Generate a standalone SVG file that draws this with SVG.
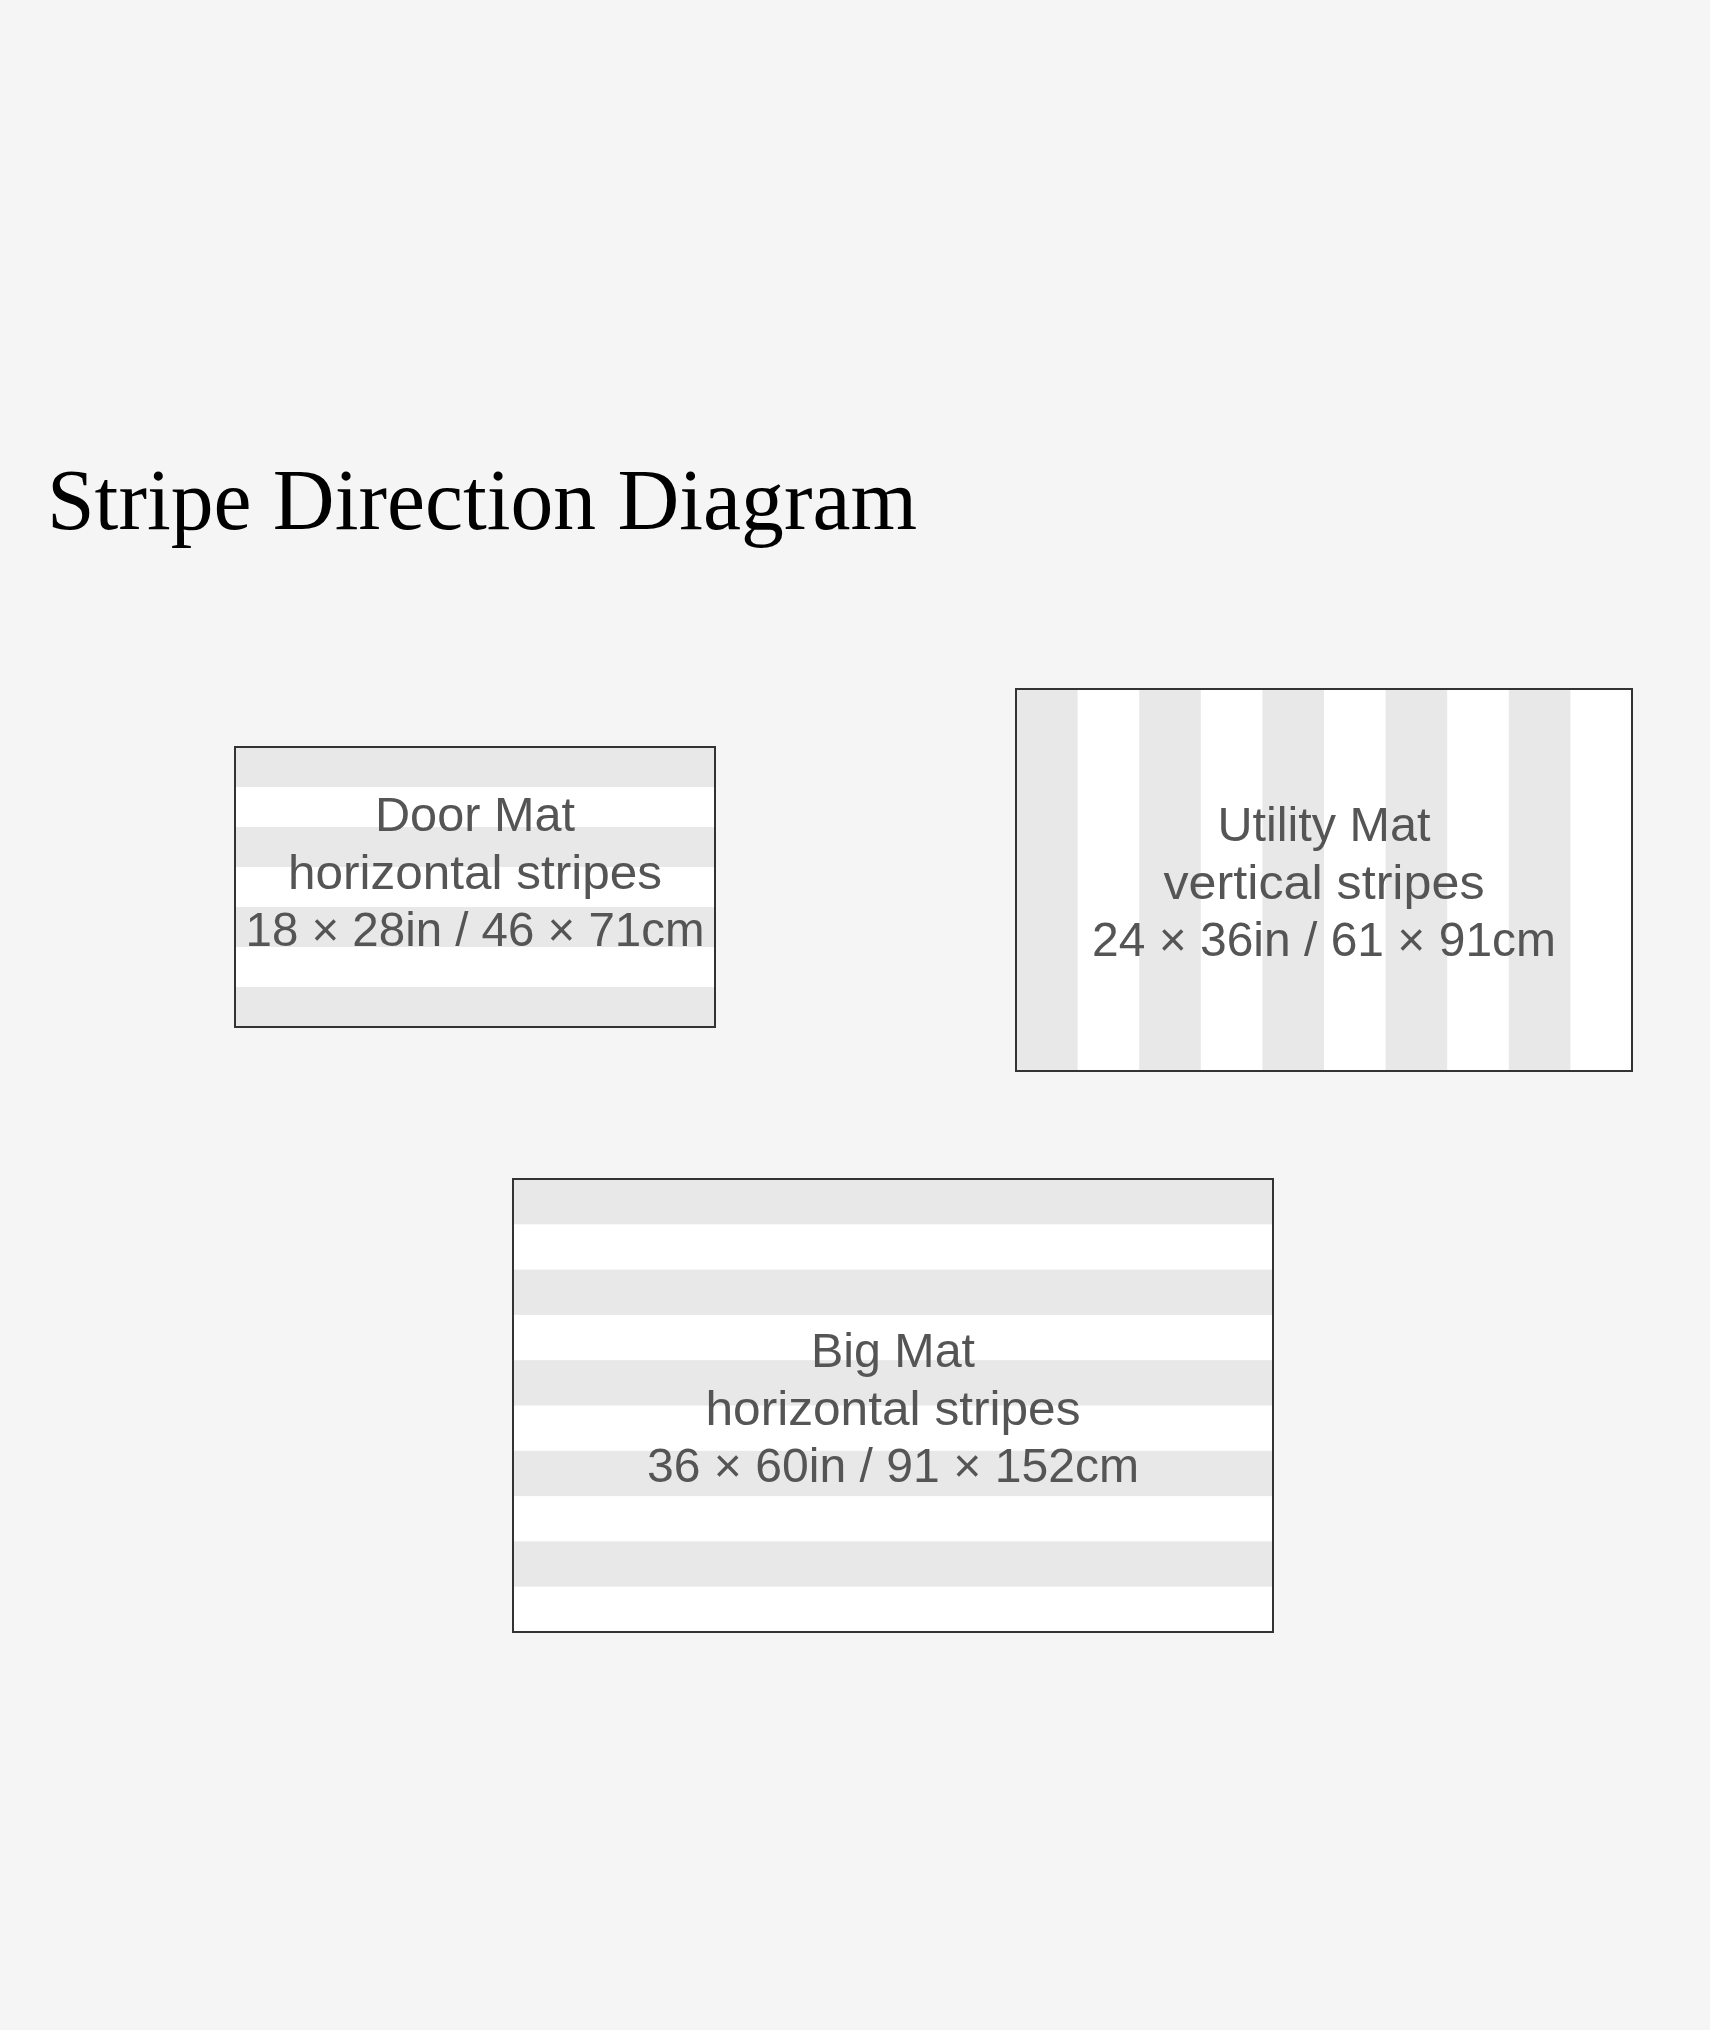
<svg xmlns="http://www.w3.org/2000/svg" width="1710" height="2030" viewBox="0 0 1710 2030">
  <style>
    .bg { fill: #f5f5f5; }
    .mat { fill: #ffffff; }
    .stripe { fill: #e8e8e9; }
    .border { fill: none; stroke: #333333; stroke-width: 2; }
    .label { font-family: "Liberation Sans", Arial, sans-serif; font-size: 49px; fill: #555555; text-anchor: middle; }
    .title { font-family: "Liberation Serif", "Times New Roman", serif; font-size: 86px; fill: #000000; }
  </style>
  <rect class="bg" x="0" y="0" width="1710" height="2030"/>

  <text id="title" class="title" x="47" y="529" textLength="870" lengthAdjust="spacingAndGlyphs">Stripe Direction Diagram</text>

  <g id="door-mat">
    <rect class="mat" x="235" y="747" width="480" height="280"/>
    <rect class="stripe" x="235" y="747" width="480" height="40"/>
    <rect class="stripe" x="235" y="827" width="480" height="40"/>
    <rect class="stripe" x="235" y="907" width="480" height="40"/>
    <rect class="stripe" x="235" y="987" width="480" height="40"/>
    <rect class="border" x="235" y="747" width="480" height="280"/>
    <text class="label" x="475" y="831" textLength="200" lengthAdjust="spacingAndGlyphs">Door Mat</text>
    <text class="label" x="475" y="889" textLength="374" lengthAdjust="spacingAndGlyphs">horizontal stripes</text>
    <text class="label" x="475" y="946" textLength="459" lengthAdjust="spacingAndGlyphs">18 × 28in / 46 × 71cm</text>
  </g>

  <g id="utility-mat">
    <rect class="mat" x="1016" y="689" width="616" height="382"/>
    <rect class="stripe" x="1016" y="689" width="61.6" height="382"/>
    <rect class="stripe" x="1139.2" y="689" width="61.6" height="382"/>
    <rect class="stripe" x="1262.4" y="689" width="61.6" height="382"/>
    <rect class="stripe" x="1385.6" y="689" width="61.6" height="382"/>
    <rect class="stripe" x="1508.8" y="689" width="61.6" height="382"/>
    <rect class="border" x="1016" y="689" width="616" height="382"/>
    <text class="label" x="1324" y="841" textLength="213" lengthAdjust="spacingAndGlyphs">Utility Mat</text>
    <text class="label" x="1324" y="899" textLength="321" lengthAdjust="spacingAndGlyphs">vertical stripes</text>
    <text class="label" x="1324" y="956" textLength="464" lengthAdjust="spacingAndGlyphs">24 × 36in / 61 × 91cm</text>
  </g>

  <g id="big-mat">
    <rect class="mat" x="513" y="1179" width="760" height="453"/>
    <rect class="stripe" x="513" y="1179" width="760" height="45.3"/>
    <rect class="stripe" x="513" y="1269.6" width="760" height="45.3"/>
    <rect class="stripe" x="513" y="1360.2" width="760" height="45.3"/>
    <rect class="stripe" x="513" y="1450.8" width="760" height="45.3"/>
    <rect class="stripe" x="513" y="1541.4" width="760" height="45.3"/>
    <rect class="border" x="513" y="1179" width="760" height="453"/>
    <text class="label" x="893" y="1367" textLength="164" lengthAdjust="spacingAndGlyphs">Big Mat</text>
    <text class="label" x="893" y="1425" textLength="375" lengthAdjust="spacingAndGlyphs">horizontal stripes</text>
    <text class="label" x="893" y="1482" textLength="492" lengthAdjust="spacingAndGlyphs">36 × 60in / 91 × 152cm</text>
  </g>

  <g id="connectors"/>
</svg>
